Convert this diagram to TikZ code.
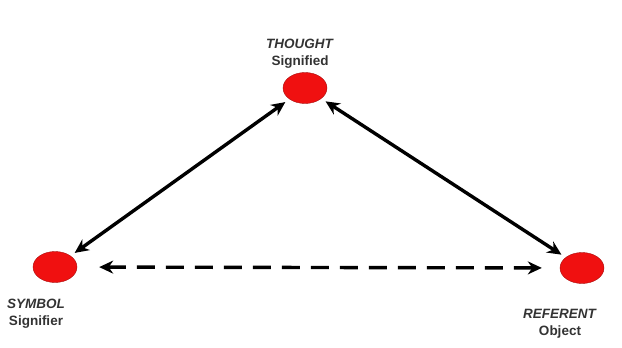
\documentclass[tikz,border=0pt]{standalone}
\usepackage{fontspec}
\setmainfont{Liberation Sans}
\usetikzlibrary{arrows.meta,positioning,shapes.geometric}
\definecolor{dotred}{HTML}{F01010}

\begin{document}
\begin{tikzpicture}[
  x=1pt, y=-1pt,
  sign/.style={ellipse, draw=dotred!70!black, fill=dotred, minimum width=44pt,
               minimum height=31pt, inner sep=0pt},
  role/.style={align=center, font=\fontsize{13.5}{17}\selectfont\bfseries, text=black!80},
  link/.style={{Stealth[length=14pt,width=13pt]}-{Stealth[length=14pt,width=13pt]},
               line width=3.4pt, shorten <=5pt, shorten >=5pt},
]
\useasboundingbox (0,0) rectangle (622,348);

\node[sign] (thought) at (305,88) {};
\node[sign] (symbol) at (55,267) {};
\node[sign] (referent) at (582,268) {};

\node[role] (thoughtlbl) at (300,54) {\textit{THOUGHT}\\Signified};
\node[role] (symbollbl) at (36,314) {\textit{SYMBOL}\\Signifier};
\node[role] (referentlbl) at (560,324) {\textit{REFERENT}\\Object};

\draw[link] (thought) -- (symbol);
\draw[link] (thought) -- (referent);
\draw[link, dash pattern=on 18pt off 11pt, shorten <=22pt, shorten >=18pt]
  (symbol) -- (referent);

\end{tikzpicture}
\end{document}
